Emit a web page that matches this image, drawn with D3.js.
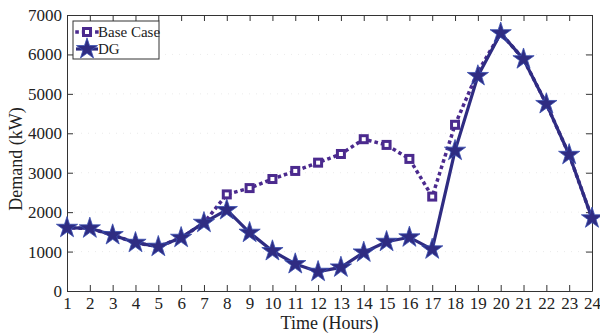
<!DOCTYPE html>
<html>
<head>
<meta charset="utf-8">
<script src="https://cdn.jsdelivr.net/npm/d3@7"></script>
<style>
  body { margin: 0; background: #fff; }
</style>
</head>
<body>
<script>
// hours 1..24
const hours = d3.range(1, 25);
const baseCase = [1600, 1590, 1420, 1225, 1125, 1350, 1730, 2450, 2610, 2840, 3045, 3255,
                  3475, 3850, 3705, 3350, 2395, 4215, 5560, 6540, 5880, 4745, 3455, 1845];
const dg = [1605, 1590, 1420, 1225, 1125, 1352, 1732, 2055, 1480, 1015, 685, 490,
            600, 980, 1250, 1362, 1057, 3560, 5455, 6540, 5880, 4745, 3455, 1845];
const yTicks = [0, 1000, 2000, 3000, 4000, 5000, 6000, 7000];
const seriesNames = ["Base Case", "DG"];

const FONT = "'Liberation Serif', 'Times New Roman', Times, serif";
const W = 600, H = 334;
const m = {top: 15, right: 8, bottom: 43, left: 67};
const pw = W - m.left - m.right, ph = H - m.top - m.bottom;

const svg = d3.select("body").append("svg")
    .attr("width", W).attr("height", H)
    .style("font-family", FONT);

const x = d3.scaleLinear().domain([1, 24]).range([0, pw]);
const y = d3.scaleLinear().domain([0, 7000]).range([ph, 0]);

const g = svg.append("g").attr("transform", "translate(" + m.left + "," + m.top + ")");

// faint dotted grid
g.append("g").selectAll("line").data(yTicks.slice(1, -1)).join("line")
    .attr("x1", 0).attr("x2", pw)
    .attr("y1", d => y(d)).attr("y2", d => y(d))
    .attr("stroke", "#ddd").attr("stroke-width", 0.6).attr("stroke-dasharray", "1,6");

// axes (box with inward ticks)
function styleAxis(sel) {
    sel.attr("font-family", FONT).attr("font-size", 17);
    sel.selectAll("text").attr("fill", "#222");
    sel.selectAll("line, path").attr("stroke", "#333");
}
g.append("g").attr("transform", "translate(0," + ph + ")")
    .call(d3.axisBottom(x).tickValues(hours).tickFormat(d3.format("d")).tickSize(-6).tickPadding(6).tickSizeOuter(0))
    .call(styleAxis);
g.append("g")
    .call(d3.axisTop(x).tickValues(hours).tickFormat("").tickSize(-6).tickSizeOuter(0))
    .call(styleAxis);
g.append("g")
    .call(d3.axisLeft(y).tickValues(yTicks).tickFormat(d3.format("d")).tickSize(-6).tickPadding(5).tickSizeOuter(0))
    .call(styleAxis);
g.append("g").attr("transform", "translate(" + pw + ",0)")
    .call(d3.axisRight(y).tickValues(yTicks).tickFormat("").tickSize(-6).tickSizeOuter(0))
    .call(styleAxis);

const line = d3.line().x((d, i) => x(hours[i])).y(d => y(d));
const cBase = "#4b2a8e", cDG = "#2f2c82";

// base case
g.append("path").datum(baseCase)
    .attr("d", line).attr("fill", "none")
    .attr("stroke", cBase).attr("stroke-width", 3.5)
    .attr("stroke-dasharray", "0.1,6.5").attr("stroke-linecap", "square");

const star = d3.symbol().type(d3.symbolStar).size(140);

// DG
g.append("path").datum(dg)
    .attr("d", line).attr("fill", "none")
    .attr("stroke", cDG).attr("stroke-width", 3.2).attr("stroke-linejoin", "round");

g.append("g").selectAll("path").data(dg).join("path")
    .attr("d", star)
    .attr("transform", (d, i) => "translate(" + x(hours[i]) + "," + y(d) + ")")
    .attr("fill", cDG).attr("stroke", "#3a4fb0").attr("stroke-width", 0.8);

// base case squares where they are visible above the DG curve
const baseIdx = hours.map((h, i) => i).filter(i => baseCase[i] - dg[i] > 150);
g.append("g").selectAll("rect").data(baseIdx).join("rect")
    .attr("x", i => x(hours[i]) - 3.5)
    .attr("y", i => y(baseCase[i]) - 3.5)
    .attr("width", 7).attr("height", 7)
    .attr("fill", "#fff").attr("stroke", cBase).attr("stroke-width", 3);

// axis labels
svg.append("text")
    .attr("x", m.left + pw / 2).attr("y", H - 5)
    .attr("text-anchor", "middle").attr("fill", "#222")
    .style("font-size", "18px")
    .text("Time (Hours)");
svg.append("text")
    .attr("transform", "translate(22," + (m.top + ph / 2 + 6) + ") rotate(-90)")
    .attr("text-anchor", "middle").attr("fill", "#222")
    .style("font-size", "18px")
    .text("Demand (kW)");

// legend
const lg = g.append("g").attr("transform", "translate(6,6)");
lg.append("rect").attr("width", 86).attr("height", 38)
    .attr("fill", "#fff").attr("stroke", "#333").attr("stroke-width", 1);
lg.append("line").attr("x1", 4).attr("x2", 24).attr("y1", 11).attr("y2", 11)
    .attr("stroke", cBase).attr("stroke-width", 3.5)
    .attr("stroke-dasharray", "0.1,6.5").attr("stroke-linecap", "square");
lg.append("rect").attr("x", 10.5).attr("y", 7.5).attr("width", 7).attr("height", 7)
    .attr("fill", "#fff").attr("stroke", cBase).attr("stroke-width", 3);
lg.append("line").attr("x1", 3).attr("x2", 25).attr("y1", 28).attr("y2", 28)
    .attr("stroke", cDG).attr("stroke-width", 3.2);
lg.append("path").attr("d", star).attr("transform", "translate(14,28)")
    .attr("fill", cDG).attr("stroke", "#3a4fb0").attr("stroke-width", 0.8);
lg.selectAll("text.lbl").data(seriesNames).join("text")
    .attr("class", "lbl")
    .attr("x", 25).attr("y", (d, i) => 16 + i * 17)
    .attr("fill", "#222")
    .style("font-size", "15px")
    .text(d => d);
</script>
</body>
</html>
